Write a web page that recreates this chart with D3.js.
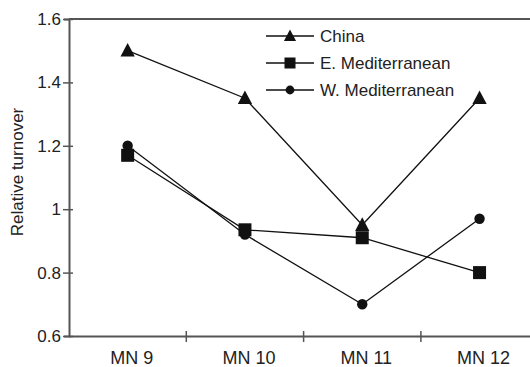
<!DOCTYPE html>
<html>
<head>
<meta charset="utf-8">
<script src="https://cdn.jsdelivr.net/npm/d3@7"></script>
<style>
  body { margin: 0; background: #fff; }
  text { font-family: "Liberation Sans", Arial, Helvetica, sans-serif; fill: #222; }
</style>
</head>
<body>
<div id="chart"></div>
<script>
// Data
var zones = ["MN 9", "MN 10", "MN 11", "MN 12"];
var china = [1.5, 1.35, 0.95, 1.35];
var eastMed = [1.17, 0.935, 0.91, 0.8];
var westMed = [1.2, 0.92, 0.7, 0.97];
var yTicks = [0.6, 0.8, 1, 1.2, 1.4, 1.6];

var series = [
  { name: "China", values: china, shape: "triangle" },
  { name: "E. Mediterranean", values: eastMed, shape: "square" },
  { name: "W. Mediterranean", values: westMed, shape: "circle" }
];

var width = 530, height = 367;
var plotLeft = 69, plotTop = 19, plotBottom = 336, bandW = 117.3;

var svg = d3.select("#chart").append("svg")
    .attr("width", width)
    .attr("height", height);

var x = d3.scaleBand()
    .domain(zones)
    .range([plotLeft, plotLeft + bandW * zones.length]);

var y = d3.scaleLinear()
    .domain([0.6, 1.6])
    .range([plotBottom, plotTop]);

var axisColor = "#555";

// top frame line
svg.append("line")
    .attr("x1", plotLeft).attr("x2", width)
    .attr("y1", y(1.6)).attr("y2", y(1.6))
    .attr("stroke", axisColor).attr("stroke-width", 2);

// Y axis
var yAxis = svg.append("g")
    .attr("transform", "translate(" + plotLeft + ",0)")
    .call(d3.axisLeft(y).tickValues(yTicks).tickSize(5).tickPadding(3)
        .tickFormat(function(d){ return d === 1 ? "1" : d3.format(".1f")(d); }));
yAxis.select(".domain").attr("stroke", axisColor).attr("stroke-width", 2);
yAxis.selectAll(".tick line").attr("x2", -6).attr("x1", 4).attr("stroke", axisColor).attr("stroke-width", 1.5);
yAxis.selectAll(".tick text").attr("font-size", "17px").attr("fill", "#222");

// X axis
var xAxis = svg.append("g")
    .attr("transform", "translate(0," + plotBottom + ")")
    .call(d3.axisBottom(x).tickSize(0).tickPadding(15));
xAxis.select(".domain").attr("stroke", axisColor).attr("stroke-width", 2);
xAxis.selectAll(".tick text").attr("font-size", "18px").attr("dx", 4).attr("fill", "#222");

// boundary ticks between categories
svg.append("g").selectAll("line")
    .data(zones.slice(1))
    .enter().append("line")
    .attr("x1", function(d){ return x(d); })
    .attr("x2", function(d){ return x(d); })
    .attr("y1", plotBottom - 5).attr("y2", plotBottom + 6)
    .attr("stroke", axisColor).attr("stroke-width", 1.5);

// Axis title
svg.append("text")
    .attr("transform", "translate(23," + 172 + ") rotate(-90)")
    .attr("text-anchor", "middle")
    .attr("font-size", "17px")
    .text("Relative turnover");

function drawMarker(g, shape, cx, cy, s) {
  if (shape === "triangle") {
    g.append("path")
      .attr("d", "M" + cx + "," + (cy - s * 0.6) + "L" + (cx + s * 0.55) + "," + (cy + s * 0.45) +
                 "L" + (cx - s * 0.55) + "," + (cy + s * 0.45) + "Z")
      .attr("fill", "#111");
  } else if (shape === "square") {
    g.append("rect")
      .attr("x", cx - s / 2).attr("y", cy - s / 2)
      .attr("width", s).attr("height", s)
      .attr("fill", "#111");
  } else {
    g.append("circle")
      .attr("cx", cx).attr("cy", cy).attr("r", s * 0.4)
      .attr("fill", "#111");
  }
}

var line = d3.line()
    .x(function(d, i){ return x(zones[i]) + x.bandwidth() / 2; })
    .y(function(d){ return y(d); });

series.forEach(function(s){
  svg.append("path")
    .attr("d", line(s.values))
    .attr("fill", "none")
    .attr("stroke", "#111")
    .attr("stroke-width", 1.3);
  var g = svg.append("g");
  s.values.forEach(function(v, i){
    drawMarker(g, s.shape, x(zones[i]) + x.bandwidth() / 2, y(v), 13);
  });
});

// Legend
var legend = svg.append("g").attr("transform", "translate(266,36)");
series.forEach(function(s, i){
  var row = legend.append("g").attr("transform", "translate(0," + (i * 27) + ")");
  row.append("line")
    .attr("x1", 0).attr("x2", 48)
    .attr("stroke", "#111").attr("stroke-width", 1.3);
  drawMarker(row, s.shape, 24, 0, 11);
  row.append("text")
    .attr("x", 54).attr("y", 6)
    .attr("font-size", "17px")
    .text(s.name);
});
</script>
</body>
</html>
